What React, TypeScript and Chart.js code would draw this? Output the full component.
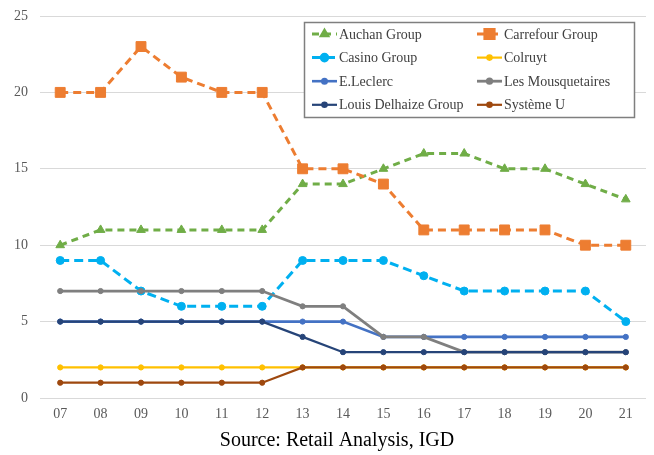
import React, { useEffect, useRef } from 'react';
import { Chart, registerables } from 'chart.js';
import { drawPoint } from 'chart.js/helpers';

Chart.register(...registerables);

const years = ['07', '08', '09', '10', '11', '12', '13', '14', '15', '16', '17', '18', '19', '20', '21'];
const yTicks = [0, 5, 10, 15, 20, 25];

const seriesNames = [
  'Auchan Group',
  'Carrefour Group',
  'Casino Group',
  'Colruyt',
  'E.Leclerc',
  'Les Mousquetaires',
  'Louis Delhaize Group',
  'Système U',
];

const auchan = [10, 11, 11, 11, 11, 11, 14, 14, 15, 16, 16, 15, 15, 14, 13];
const carrefour = [20, 20, 23, 21, 20, 20, 15, 15, 14, 11, 11, 11, 11, 10, 10];
const casino = [9, 9, 7, 6, 6, 6, 9, 9, 9, 8, 7, 7, 7, 7, 5];
const colruyt = [2, 2, 2, 2, 2, 2, 2, 2, 2, 2, 2, 2, 2, 2, 2];
const leclerc = [5, 5, 5, 5, 5, 5, 5, 5, 4, 4, 4, 4, 4, 4, 4];
const mousquetaires = [7, 7, 7, 7, 7, 7, 6, 6, 4, 4, 3, 3, 3, 3, 3];
const delhaize = [5, 5, 5, 5, 5, 5, 4, 3, 3, 3, 3, 3, 3, 3, 3];
const systemeU = [1, 1, 1, 1, 1, 1, 2, 2, 2, 2, 2, 2, 2, 2, 2];

const seriesValues = [auchan, carrefour, casino, colruyt, leclerc, mousquetaires, delhaize, systemeU];
const seriesColors = ['#70AD47', '#ED7D31', '#00B0F0', '#FFC000', '#4472C4', '#7F7F7F', '#264478', '#9E480E'];
const seriesDashes = [[7, 5], [8, 5], [9, 5], [], [], [], [], []];
const seriesPointStyles = ['triangle', 'rect', 'circle', 'circle', 'circle', 'circle', 'circle', 'circle'];
const seriesPointRadius = [5, 7, 4, 2.6, 2.6, 2.6, 2.6, 2.6];
const legendPointRadius = [3.6, 6.5, 3.3, 2.2, 2.2, 2.2, 2.2, 2.2];
const seriesLineWidth = [3, 3, 3, 2.2, 2.6, 2.8, 2.2, 2.2];

const titleText = 'Source: Retail Analysis, IGD';
const serif = '"Liberation Serif", "Times New Roman", serif';

const legendPlugin = {
  id: 'customLegend',
  afterDraw(chart: any) {
    const ctx = chart.ctx as CanvasRenderingContext2D;
    ctx.save();
    // legend box
    ctx.fillStyle = '#ffffff';
    ctx.fillRect(304, 22, 331, 96);
    ctx.strokeStyle = '#7F7F7F';
    ctx.lineWidth = 1.5;
    ctx.setLineDash([]);
    ctx.strokeRect(304.5, 22.5, 330, 95);

    chart.data.datasets.forEach((ds: any, i: number) => {
      const col = i % 2;
      const row = Math.floor(i / 2);
      const x1 = col === 0 ? 312 : 477;
      const y = 34 + row * 23.6;
      ctx.beginPath();
      ctx.setLineDash(ds.borderDash || []);
      ctx.lineWidth = ds.borderWidth;
      ctx.strokeStyle = ds.borderColor;
      ctx.moveTo(x1, y);
      ctx.lineTo(x1 + 25, y);
      ctx.stroke();
      ctx.setLineDash([]);
      ctx.fillStyle = ds.pointBackgroundColor;
      ctx.strokeStyle = ds.pointBorderColor;
      drawPoint(ctx, { pointStyle: ds.pointStyle, radius: legendPointRadius[i], rotation: 0, borderWidth: 1 } as any, x1 + 12.5, y);
      ctx.fillStyle = '#404040';
      ctx.font = '14px ' + serif;
      ctx.textBaseline = 'middle';
      ctx.textAlign = 'left';
      ctx.fillText(ds.label, x1 + 27, y + 1);
    });

    // source title
    ctx.fillStyle = '#000000';
    ctx.font = '20px ' + serif;
    ctx.textAlign = 'center';
    ctx.textBaseline = 'middle';
    ctx.fillText(titleText, 337, 441);
    ctx.restore();
  },
};

export default function App() {
  const ref = useRef<HTMLCanvasElement>(null);

  useEffect(() => {
    document.body.style.margin = '0';
    const n = seriesNames.length;
    const datasets = seriesNames.map((name, i) => ({
      label: name,
      data: seriesValues[i],
      borderColor: seriesColors[i],
      backgroundColor: seriesColors[i],
      pointBackgroundColor: seriesColors[i],
      pointBorderColor: seriesColors[i],
      pointBorderWidth: 1,
      borderWidth: seriesLineWidth[i],
      borderDash: seriesDashes[i],
      pointStyle: seriesPointStyles[i],
      pointRadius: seriesPointRadius[i],
      tension: 0,
      fill: false,
      order: n - i,
    }));

    const chart = new Chart(ref.current as HTMLCanvasElement, {
      type: 'line',
      data: { labels: years, datasets },
      options: {
        animation: false,
        responsive: true,
        maintainAspectRatio: false,
        layout: { padding: { top: 16, right: 7, bottom: 0, left: 0 } },
        plugins: {
          legend: { display: false },
          title: { display: false },
          tooltip: { enabled: false },
        },
        scales: {
          x: {
            offset: true,
            grid: { display: false, drawTicks: false },
            border: { display: false },
            ticks: {
              color: '#595959',
              font: { family: serif, size: 14 },
              padding: 8,
              maxRotation: 0,
              autoSkip: false,
            },
            afterFit: (scale: any) => {
              scale.height = 57;
              scale.paddingLeft = 0;
              scale.paddingRight = 0;
            },
          },
          y: {
            min: 0,
            max: 25,
            afterBuildTicks: (scale: any) => {
              scale.ticks = yTicks.map((v) => ({ value: v }));
            },
            grid: { color: '#D9D9D9', lineWidth: 1, drawTicks: false },
            border: { display: false },
            ticks: {
              color: '#595959',
              font: { family: serif, size: 14 },
              padding: 12,
            },
            afterFit: (scale: any) => {
              scale.width = 40;
              scale.paddingTop = 0;
              scale.paddingBottom = 0;
            },
          },
        },
      } as any,
      plugins: [legendPlugin],
    });
    return () => chart.destroy();
  }, []);

  return (
    <div style={{ width: 654, height: 455, position: 'relative' }}>
      <canvas ref={ref} />
    </div>
  );
}
